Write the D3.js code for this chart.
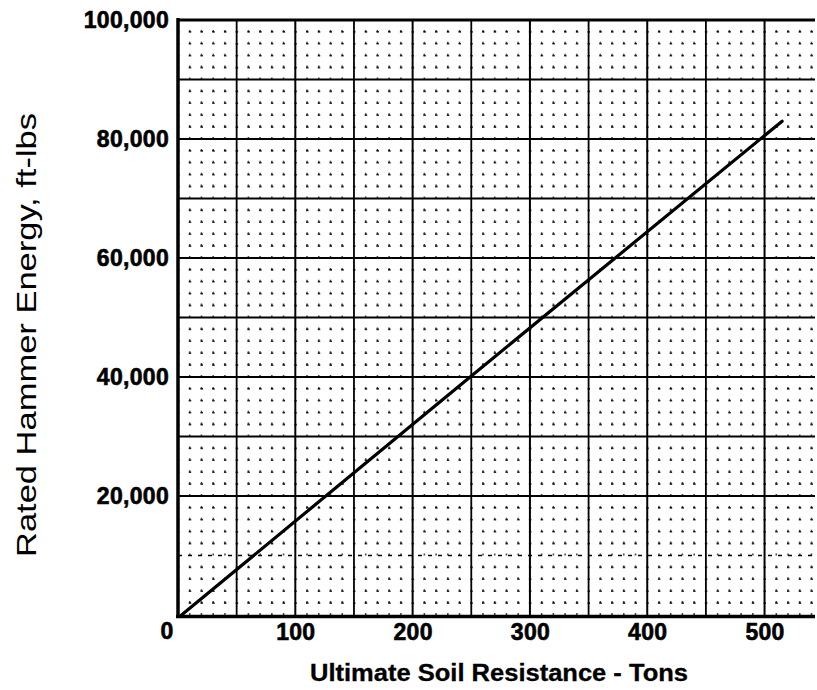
<!DOCTYPE html>
<html>
<head>
<meta charset="utf-8">
<script src="https://cdn.jsdelivr.net/npm/d3@7"></script>
<style>
  html, body { margin: 0; padding: 0; background: #fff; }
  svg { display: block; }
  text { font-family: "Liberation Sans", Arial, sans-serif; fill: #000; }
</style>
</head>
<body>
<div id="chart"></div>
<script>
// ---- data ----
const resistanceTons = [3, 249, 515];          // x: Ultimate Soil Resistance (tons)
const hammerEnergy   = [0, 40000, 83000];      // y: Rated Hammer Energy (ft-lbs)
const xTickValues = [100, 200, 300, 400, 500];
const yTickValues = [20000, 40000, 60000, 80000, 100000];
const xTitle = "Ultimate Soil Resistance - Tons";
const yTitle = "Rated Hammer Energy, ft-lbs";

// ---- layout ----
const W = 817, H = 690;
const svg = d3.select("#chart").append("svg").attr("width", W).attr("height", H);

const x = d3.scaleLinear().domain([0, 543]).range([178, 815]);
const y = d3.scaleLinear().domain([0, 100000]).range([615, 20]);

const g = svg.append("g");

// minor grid (dotted graph paper)
const xPer10 = x(10) - x(0);
const yPer2k = y(0) - y(2000);
const minorY = d3.range(2000, 100000, 2000).filter(v => v % 10000 !== 0);
const minorX = d3.range(10, 543, 10).filter(v => v % 50 !== 0);

g.selectAll(".minorH").data(minorY).join("line")
  .attr("x1", x(0) - 1).attr("x2", x(543))
  .attr("y1", d => y(d)).attr("y2", d => y(d))
  .attr("stroke", "#000").attr("stroke-width", 1.6)
  .attr("stroke-dasharray", `2.5,${(xPer10 - 2.5).toFixed(2)}`)
  .attr("opacity", 0.8);

g.selectAll(".minorV").data(minorX).join("line")
  .attr("y1", y(0)).attr("y2", y(100000))
  .attr("x1", d => x(d)).attr("x2", d => x(d))
  .attr("stroke", "#000").attr("stroke-width", 1.6)
  .attr("stroke-dasharray", `2,${(yPer2k - 2).toFixed(2)}`)
  .attr("opacity", 0.7);

// major grid
const majorY = d3.range(10000, 100000, 10000);
const majorX = d3.range(50, 543, 50);

g.selectAll(".majorH").data(majorY).join("line")
  .attr("x1", x(0)).attr("x2", x(543))
  .attr("y1", d => y(d)).attr("y2", d => y(d))
  .attr("stroke", "#000")
  .attr("stroke-width", d => d === 10000 ? 1.6 : 2)
  .attr("stroke-dasharray", d => d === 10000 ? "4,6" : null);

g.selectAll(".majorV").data(majorX).join("line")
  .attr("y1", y(0)).attr("y2", y(100000))
  .attr("x1", d => x(d)).attr("x2", d => x(d))
  .attr("stroke", "#000")
  .attr("stroke-width", d => d % 100 === 0 ? 2 : 1.8);

// top border
g.append("line")
  .attr("x1", x(0)).attr("x2", x(543))
  .attr("y1", y(100000)).attr("y2", y(100000))
  .attr("stroke", "#000").attr("stroke-width", 3);

// axes (thick frame lines)
g.append("line")
  .attr("x1", x(0)).attr("x2", x(0))
  .attr("y1", y(100000) - 2).attr("y2", y(0) + 3)
  .attr("stroke", "#000").attr("stroke-width", 3.5);
g.append("line")
  .attr("x1", x(0) - 2).attr("x2", x(543))
  .attr("y1", y(0) + 1.5).attr("y2", y(0) + 1.5)
  .attr("stroke", "#000").attr("stroke-width", 3.5);

// data line
const pts = resistanceTons.map((t, i) => [t, hammerEnergy[i]]);
g.append("path")
  .datum(pts)
  .attr("fill", "none")
  .attr("stroke", "#000")
  .attr("stroke-width", 3.2)
  .attr("stroke-linecap", "round")
  .attr("d", d3.line().x(d => x(d[0])).y(d => y(d[1])));

// axes labels via d3 axes (domain/ticks hidden)
const fmt = d3.format(",");
function styleTicks(sel) {
  sel.style("font-family", "'Liberation Sans', Arial, sans-serif")
    .style("font-size", "23px").style("font-weight", "bold")
    .style("letter-spacing", "0.3px")
    .attr("fill", "#000").attr("stroke", "#000").attr("stroke-width", 0.6);
}
const yAxis = d3.axisLeft(y).tickValues(yTickValues).tickFormat(fmt).tickSize(0).tickPadding(9);
const yAx = svg.append("g").attr("transform", `translate(${x(0)},0)`).call(yAxis);
yAx.select(".domain").remove();
styleTicks(yAx.selectAll("text"));

const xAxis = d3.axisBottom(x).tickValues(xTickValues).tickFormat(d3.format("d")).tickSize(0).tickPadding(9);
const xAx = svg.append("g").attr("transform", `translate(0,${y(0)})`).call(xAxis);
xAx.select(".domain").remove();
styleTicks(xAx.selectAll("text"));

// origin label
styleTicks(svg.append("text")
  .attr("x", x(0) - 11).attr("y", 639)
  .attr("text-anchor", "middle")
  .text("0"));

// titles
svg.append("text")
  .attr("x", 499).attr("y", 681)
  .attr("text-anchor", "middle")
  .attr("textLength", 378).attr("lengthAdjust", "spacingAndGlyphs")
  .style("font-size", "23px").style("font-weight", "bold")
  .attr("stroke", "#000").attr("stroke-width", 0.3)
  .text(xTitle);

svg.append("text")
  .attr("transform", "translate(36,335) rotate(-90)")
  .attr("text-anchor", "middle")
  .attr("textLength", 444).attr("lengthAdjust", "spacingAndGlyphs")
  .style("font-size", "28px")
  .text(yTitle);
</script>
</body>
</html>
